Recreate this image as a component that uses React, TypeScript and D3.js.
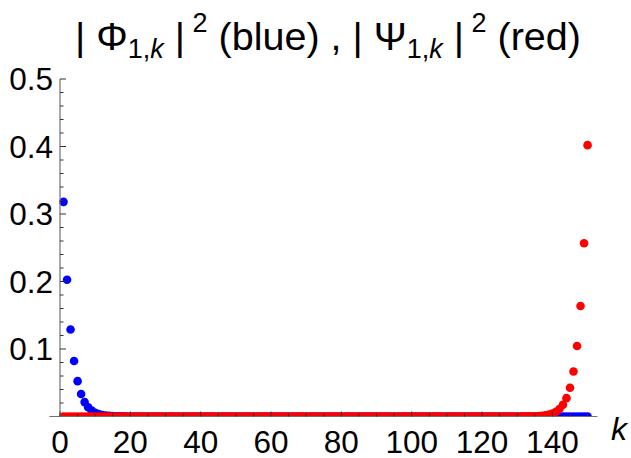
import React from "react";
import * as d3 from "d3";

// Site index k = 1 … 150
const kValues: number[] = d3.range(1, 151);

// |Φ_{1,k}|² for k = 1, 2, 3, … (values beyond the list are ~0)
const phiHead: number[] = [
  0.318, 0.2025, 0.129, 0.0822, 0.0524, 0.0334, 0.0213, 0.0136, 0.0087, 0.0055,
  0.0035, 0.0022, 0.0014, 0.0009, 0.00058, 0.00037, 0.00024, 0.00015, 0.0001,
];

// |Ψ_{1,k}|² for k = 150, 149, 148, … (values before the list are ~0)
const psiTail: number[] = [
  0.402, 0.2566, 0.1638, 0.1045, 0.0667, 0.0426, 0.0272, 0.0174, 0.0111, 0.0071,
  0.0045, 0.0029, 0.0018, 0.0012, 0.00075, 0.00048, 0.0003, 0.0002, 0.00012,
];

const xTickLabels: number[] = [0, 20, 40, 60, 80, 100, 120, 140];
const yTickLabels: number[] = [0.1, 0.2, 0.3, 0.4, 0.5];

const W = 631;
const H = 458;

export default function App() {
  const x = d3.scaleLinear().domain([0, 140]).range([60, 552.4]);
  const y = d3.scaleLinear().domain([0, 0.5]).range([416.5, 79]);
  const x0 = x(-3);
  const x1 = x(152.8);
  const yBase = y(0);

  const phi = kValues.map((k) => ({ k, v: phiHead[k - 1] ?? 0 }));
  const psi = kValues.map((k) => ({ k, v: psiTail[150 - k] ?? 0 }));

  const xMinor = d3.range(0, 151, 5).filter((v) => v % 20 !== 0);
  const yMinor = d3.range(0.02, 0.5, 0.02).filter(
    (v) => Math.abs(v * 10 - Math.round(v * 10)) > 1e-6
  );

  const font = "'Liberation Sans', Arial, sans-serif";
  const r = 4.3;
  const sub = 27;

  return (
    <svg
      width={W}
      height={H}
      style={{ position: "fixed", left: 0, top: 0, background: "#fff" }}
      fontFamily={font}
    >
      <defs>
        <clipPath id="plotArea">
          <rect x={0} y={0} width={W} height={yBase} />
        </clipPath>
      </defs>

      {/* title */}
      <text x={328} y={50} textAnchor="middle" fontSize={39.5} fill="#000" xmlSpace="preserve">
        <tspan>| Φ</tspan>
        <tspan fontSize={sub} dy={8}>1,</tspan>
        <tspan fontSize={sub} fontStyle="italic">k</tspan>
        <tspan dy={-8}> |</tspan>
        <tspan fontSize={sub} dy={-18}> 2</tspan>
        <tspan dy={18}> (blue) , | Ψ</tspan>
        <tspan fontSize={sub} dy={8}>1,</tspan>
        <tspan fontSize={sub} fontStyle="italic">k</tspan>
        <tspan dy={-8}> |</tspan>
        <tspan fontSize={sub} dy={-18}> 2</tspan>
        <tspan dy={18}> (red)</tspan>
      </text>

      {/* points */}
      <g clipPath="url(#plotArea)">
        {phi.map((d) => (
          <circle key={"b" + d.k} cx={x(d.k)} cy={y(d.v)} r={r} fill="#0000ff" />
        ))}
        {psi.map((d) => (
          <circle key={"r" + d.k} cx={x(d.k)} cy={y(d.v)} r={r} fill="#ff0000" />
        ))}
      </g>

      {/* axes */}
      <line x1={x0} x2={x1} y1={yBase} y2={yBase} stroke="#707070" strokeWidth={1.2} />
      <line x1={x(0)} x2={x(0)} y1={yBase} y2={y(0.5)} stroke="#707070" strokeWidth={1.2} />

      {/* x ticks */}
      {xTickLabels.map((v) => (
        <g key={"xt" + v}>
          <line x1={x(v)} x2={x(v)} y1={yBase} y2={yBase - 5} stroke="#333" strokeWidth={1} />
          <text x={x(v)} y={452.5} textAnchor="middle" fontSize={31.5} fill="#000">
            {v}
          </text>
        </g>
      ))}
      {xMinor.map((v) => (
        <line key={"xm" + v} x1={x(v)} x2={x(v)} y1={yBase} y2={yBase - 3} stroke="#333" strokeWidth={1} />
      ))}
      <text x={611} y={440} fontSize={32} fontStyle="italic" fill="#000">k</text>

      {/* y ticks */}
      {yTickLabels.map((v) => (
        <g key={"yt" + v}>
          <line x1={x(0)} x2={x(0) + 6} y1={y(v)} y2={y(v)} stroke="#333" strokeWidth={1} />
          <text x={53} y={y(v) + 11} textAnchor="end" fontSize={31.5} fill="#000">
            {d3.format(".1f")(v)}
          </text>
        </g>
      ))}
      {yMinor.map((v) => (
        <line key={"ym" + v} x1={x(0)} x2={x(0) + 3.5} y1={y(v)} y2={y(v)} stroke="#333" strokeWidth={1} />
      ))}
    </svg>
  );
}
